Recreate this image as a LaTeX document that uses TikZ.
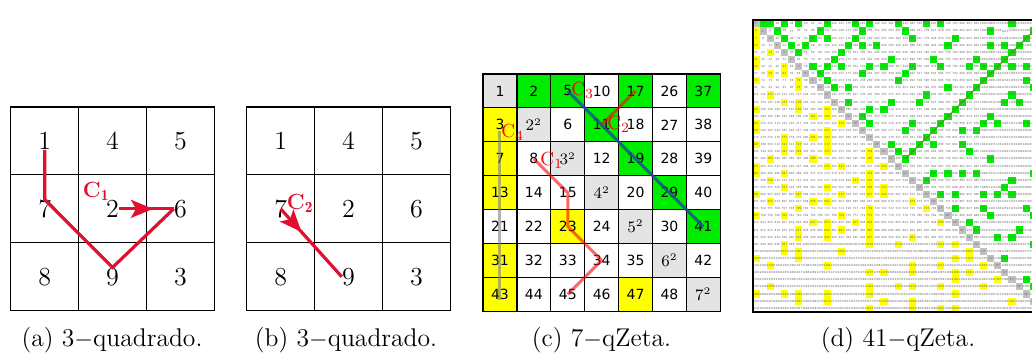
\documentclass[tikz,border=0pt]{standalone}
\usepackage{fontspec}
\newfontfamily\numfont{DejaVu Sans}
\usetikzlibrary{arrows.meta,decorations.markings,calc}
\definecolor{apath}{RGB}{226,16,48}
\definecolor{pgreen}{RGB}{0,236,0}
\definecolor{pyellow}{RGB}{255,255,0}
\definecolor{sqgray}{RGB}{228,228,228}
\definecolor{dgray}{RGB}{192,192,192}
\definecolor{cblue}{RGB}{30,80,150}
\definecolor{eline}{RGB}{100,140,30}

\newif\ifprm
\def\prmcheck#1{\global\prmtrue\ifnum#1<2 \global\prmfalse\fi\prmloop{#1}2,3,5,7,11,13,17,19,23,29,31,37,0,;}
\def\prmloop#1#2,{%
  \ifnum#2=0 \expandafter\prmstop
  \else
    \ifnum#1>#2 \ifnum\numexpr(#1/#2)*#2\relax=#1 \global\prmfalse\fi\fi
    \expandafter\prmnext
  \fi{#1}}
\def\prmnext#1{\prmloop{#1}}
\def\prmstop#1#2;{}
\def\qwhite{white}
\def\cellset#1#2{%
  \ifnum#1=#2\relax
    \def\qkind{0}\edef\qval{\the\numexpr#2*#2\relax}%
  \else\ifnum#1<#2\relax
    \def\qkind{1}\edef\qval{\the\numexpr(#2-1)*(#2-1)+#1\relax}%
  \else
    \def\qkind{2}\edef\qval{\the\numexpr#1*#1-#1+#2\relax}%
  \fi\fi
  \prmcheck{\qval}%
  \ifnum\qkind=0 \def\qfc{sqgray}\else
    \ifprm\ifnum\qkind=1 \def\qfc{pgreen}\else\def\qfc{pyellow}\fi
    \else\def\qfc{white}\fi
  \fi}
\def\sqsize{\fontsize{7.7}{8}\selectfont}

\tikzset{
  agrid/.style={line width=0.55pt},
  cgrid/.style={line width=0.6pt},
  bignum/.style={font=\fontsize{13}{15}\selectfont, inner sep=0pt},
  capt/.style={font=\fontsize{12.8}{14}\selectfont, anchor=base},
  redpath/.style={draw=apath, line width=1.6pt},
  midarrow/.style={postaction={decorate}, decoration={markings, mark=at position #1 with {\arrow{Stealth[length=11pt,width=9pt,inset=2.5pt]}}}},
  alab/.style={font=\fontsize{11}{12}\selectfont\bfseries, text=apath, inner sep=0pt, anchor=west},
  cnum/.style={font=\numfont\fontsize{7}{8}\selectfont, inner sep=0pt},
  qlab/.style={font=\fontsize{9.5}{10}\selectfont, text=red, inner sep=0pt, anchor=west},
  redline/.style={draw=red, draw opacity=0.6, line width=1.5pt},
  blueline/.style={draw=cblue, draw opacity=0.85, line width=1.5pt},
  grayline/.style={draw=gray, draw opacity=0.6, line width=1.5pt},
  dnum/.style={font=\numfont\fontsize{1.4}{1.6}\selectfont, inner sep=0pt, text=black!60},
  eul/.style={draw=eline, draw opacity=0.75, line width=0.75pt},
}

\begin{document}
\begin{tikzpicture}[x=0.5pt,y=-0.5pt]
\useasboundingbox (0,0) rectangle (1032,353);
\fill[white] (0,0) rectangle (1032,353);

% ---------- (a) ----------
\foreach \cx in {0,1,2}{\foreach \cy in {0,1,2}{
  \draw[agrid] ({10.7+\cx*67.9},{107+\cy*67.9}) rectangle ++(67.9,67.9);}}
\foreach \v/\cx/\cy in {1/1/1,4/2/1,5/3/1,7/1/2,2/2/2,6/3/2,8/1/3,9/2/3,3/3/3}
  \node[bignum] (a\v) at ({10.7+(\cx-0.5)*67.9},{107+(\cy-0.5)*67.9}) {\v};
\draw[redpath] (a1.south) -- (a7.north) -- (a9.north) -- (a6.west);
\draw[redpath, midarrow=0.62] (a2.east) -- (a6.west);
\node[alab] (la) at (82.5,191.5) {C$_{\mathbf{1}}$};
\node[capt] (capa) at (112,346) {(a) 3$-$quadrado.};

% ---------- (b) ----------
\foreach \cx in {0,1,2}{\foreach \cy in {0,1,2}{
  \draw[agrid] ({246.7+\cx*67.9},{107+\cy*67.9}) rectangle ++(67.9,67.9);}}
\foreach \v/\cx/\cy in {1/1/1,4/2/1,5/3/1,7/1/2,2/2/2,6/3/2,8/1/3,9/2/3,3/3/3}
  \node[bignum] (b\v) at ({246.7+(\cx-0.5)*67.9},{107+(\cy-0.5)*67.9}) {\v};
\draw[redpath, midarrow=0.34] (b7.center) -- (b9.west);
\node[alab] (lb) at (286.5,203) {C$_{\mathbf{2}}$};
\node[capt] (capb) at (346,346) {(b) 3$-$quadrado.};

% ---------- (c) ----------
\foreach \ri in {1,...,7}{\foreach \ci in {1,...,7}{
  \cellset{\ri}{\ci}
  \draw[cgrid, fill=\qfc] ({483+(\ci-1)*33.9},{74+(\ri-1)*33.9}) rectangle ++(33.9,33.9);
  \node[cnum] (q-\ri-\ci) at ({483+(\ci-0.5)*33.9},{74+(\ri-0.5)*33.9})
    {\ifnum\qkind=0 \ifnum\ri=1 1\else{\sqsize$\ri^2$}\fi\else\qval\fi};
}}
\draw[blueline] (q-1-3.center) -- (q-5-7.center);
\draw[redline] (q-1-5.center) -- (q-2-4.center);
\draw[grayline] (q-2-1.south) -- (q-7-1.south);
\draw[redline] (q-3-2.center) -- (q-4-3.center) -- (q-5-3.center) -- (q-6-4.center) -- (q-7-3.center);
\node[qlab] (l3) at (571,90) {C$_3$};
\node[qlab] (l4) at (501,132) {C$_4$};
\node[qlab] (l1) at (540,160) {C$_1$};
\node[qlab] (l2) at (607,124) {C$_2$};
\node[capt] (capc) at (601.5,346) {(c) 7$-$qZeta.};

% ---------- (d) ----------
\begin{scope}
\clip (0,0) rectangle (1032,353);
\foreach \ri in {1,...,41}{\foreach \ci in {1,...,41}{
  \cellset{\ri}{\ci}
  \ifnum\qkind=0 \def\qfc{dgray}\fi
  \ifx\qfc\qwhite\else
    \fill[\qfc] ({752.5+(\ci-1)*7.11},{20.3+(\ri-1)*7.11}) rectangle ++(7.11,7.11);
  \fi
  \node[dnum] (d-\ri-\ci) at ({752.5+(\ci-0.5)*7.11},{20.3+(\ri-0.5)*7.11})
    {\ifnum\qkind=0 \ri²\else\qval\fi};
}}
\draw[eul] (d-20-22.center) -- (d-1-41.center);
\draw[line width=1pt] (752.5,20.3) rectangle (1044,311.8);
\end{scope}
\node[capt] (capd) at (898,346) {(d) 41$-$qZeta.};
\end{tikzpicture}
\end{document}
